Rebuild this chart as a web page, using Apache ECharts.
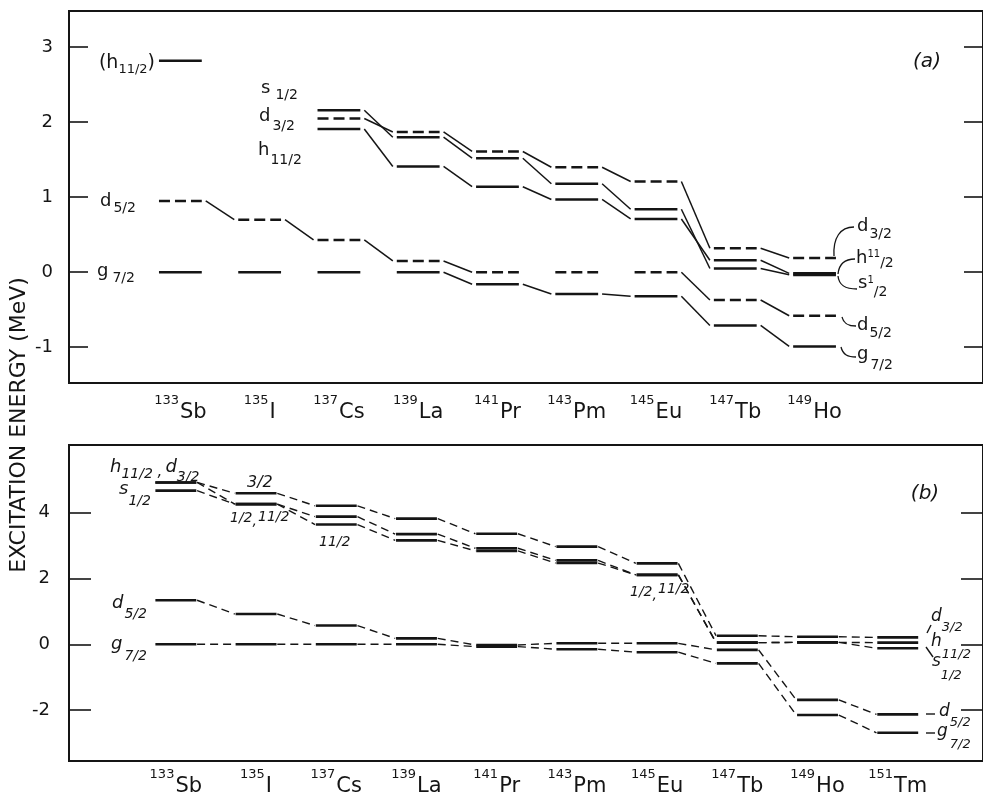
<!DOCTYPE html>
<html><head><meta charset="utf-8">
<script src="https://cdn.jsdelivr.net/npm/echarts@6/dist/echarts.min.js"></script>
<style>html,body{margin:0;padding:0;background:#fff}#c{width:983px;height:796px}</style>
</head><body><div id="c"></div>
<script>
// ---------------- data ----------------
const massA = ['133','135','137','139','141','143','145','147','149'];
const elemA = ['Sb','I','Cs','La','Pr','Pm','Eu','Tb','Ho'];
const massB = ['133','135','137','139','141','143','145','147','149','151'];
const elemB = ['Sb','I','Cs','La','Pr','Pm','Eu','Tb','Ho','Tm'];
const yTicksA = [-1, 0, 1, 2, 3];
const yTicksB = [-2, 0, 2, 4];

// panel (a): experimental levels (MeV), null = not shown
const aH11 = [2.82, null, 1.91, 1.41, 1.14, 0.97, 0.71, 0.16, -0.015];
const aS12 = [null, null, 2.16, 1.80, 1.52, 1.18, 0.84, 0.05, -0.035];
const aD32 = [null, null, 2.05, 1.87, 1.61, 1.40, 1.21, 0.32, 0.19];
const aD52 = [0.95, 0.70, 0.43, 0.15, 0.00, 0.00, 0.00, -0.37, -0.58];
const aG72 = [0.00, 0.00, 0.00, 0.00, -0.16, -0.29, -0.32, -0.71, -0.99];

// panel (b): calculated levels
const bD32 = [4.92, 4.59, 4.21, 3.82, 3.36, 2.97, 2.46, 0.26, 0.23, 0.21];
const bH11 = [4.92, 4.26, 3.64, 3.16, 2.84, 2.47, 2.11, 0.05, 0.06, 0.05];
const bS12 = [4.67, 4.26, 3.88, 3.35, 2.92, 2.55, 2.11, 0.05, 0.06, -0.12];
const bD52 = [1.34, 0.92, 0.57, 0.18, -0.02, 0.03, 0.03, -0.17, -1.69, -2.13];
const bG72 = [0.00, 0.00, 0.00, 0.00, -0.07, -0.15, -0.24, -0.58, -2.15, -2.69];

// ---------------- helpers ----------------
const INK = '#151515';
const FONT = "'DejaVu Sans', sans-serif";
const HW_A = 0.27, HW_B = 0.255, GAP_A = 0.05, GAP_B = 0.01;

function levelData(list) {
  const out = [];
  list.forEach(([vals, dashed]) => vals.forEach((v, i) => { if (v !== null) out.push([i, v, dashed ? 1 : 0]); }));
  return out;
}
function connData(list, skipFlat) {
  const out = [];
  list.forEach(vals => {
    for (let i = 0; i < vals.length - 1; i++) {
      const a = vals[i], b = vals[i + 1];
      if (a === null || b === null) continue;
      if (skipFlat && a === b) continue;
      out.push([i, a, i + 1, b]);
    }
  });
  return out;
}
function levelRenderer(hw, lw, dash) {
  return (params, api) => {
    const x = api.value(0), y = api.value(1), d = api.value(2);
    const p1 = api.coord([x - hw, y]), p2 = api.coord([x + hw, y]);
    return { type: 'line', shape: { x1: p1[0], y1: p1[1], x2: p2[0], y2: p2[1] },
      style: { stroke: INK, lineWidth: lw, lineDash: d ? dash : null, lineCap: 'butt' } };
  };
}
function connRenderer(hw, gap, lw, dash) {
  return (params, api) => {
    const p1 = api.coord([api.value(0) + hw + gap, api.value(1)]);
    const p2 = api.coord([api.value(2) - hw - gap, api.value(3)]);
    return { type: 'line', shape: { x1: p1[0], y1: p1[1], x2: p2[0], y2: p2[1] },
      style: { stroke: INK, lineWidth: lw, lineDash: dash, lineCap: 'butt' } };
  };
}

const levA = levelData([[aH11, false], [aS12, false], [aD32, true], [aD52, true], [aG72, false]]);
const conA = connData([aH11, aS12, aD32, aD52, aG72], true);
const levB = levelData([[bD32, false], [bH11, false], [bS12, false], [bD52, false], [bG72, false]]);
const conB = connData([bD32, bH11, bS12, bD52, bG72], false);

function yAxes(gi, min, max, ticks, margin, tlen) {
  const tick = { show: true, inside: true, length: tlen, lineStyle: { color: INK, width: 1.6 }, customValues: ticks };
  return [
    { gridIndex: gi, type: 'value', position: 'left', min, max,
      axisLine: { show: false, onZero: false }, splitLine: { show: false }, axisTick: tick,
      axisLabel: { show: true, customValues: ticks, margin, color: INK, fontSize: 18, fontFamily: FONT } },
    { gridIndex: gi, type: 'value', position: 'right', min, max,
      axisLine: { show: false, onZero: false }, splitLine: { show: false }, axisTick: tick,
      axisLabel: { show: false } }
  ];
}
function xAxis(gi, min, max) {
  return { gridIndex: gi, type: 'value', min, max, axisLine: { show: false, onZero: false }, axisTick: { show: false },
    axisLabel: { show: false }, splitLine: { show: false } };
}

const chart = echarts.init(document.getElementById('c'), null, { renderer: 'canvas' });
chart.setOption({
  animation: false,
  backgroundColor: '#fff',
  grid: [
    { left: 69, top: 11, right: -5, height: 372, show: true, borderColor: INK, borderWidth: 2, backgroundColor: 'transparent' },
    { left: 69, top: 445, right: -5, height: 316, show: true, borderColor: INK, borderWidth: 2, backgroundColor: 'transparent' }
  ],
  xAxis: [xAxis(0, -1.405, 10.125), xAxis(1, -1.332, 10.063)],
  yAxis: [...yAxes(0, -1.477, 3.483, yTicksA, 16, 19), ...yAxes(1, -3.547, 6.058, yTicksB, 19, 22)],
  series: [
    { type: 'custom', xAxisIndex: 0, yAxisIndex: 0, silent: true, data: conA, renderItem: connRenderer(HW_A, GAP_A, 1.5, null) },
    { type: 'custom', xAxisIndex: 0, yAxisIndex: 0, silent: true, data: levA, renderItem: levelRenderer(HW_A, 2.7, [11, 5]) },
    { type: 'custom', xAxisIndex: 1, yAxisIndex: 2, silent: true, data: conB, renderItem: connRenderer(HW_B, GAP_B, 1.4, [8, 5]) },
    { type: 'custom', xAxisIndex: 1, yAxisIndex: 2, silent: true, data: levB, renderItem: levelRenderer(HW_B, 2.6, null) }
  ]
});

// ---------------- annotations ----------------
const mctx = document.createElement('canvas').getContext('2d');
function tw(t, s, st) { mctx.font = `${st || 'normal'} ${s}px ${FONT}`; return mctx.measureText(t).width; }
function compound(spec) {
  const st = spec.style || 'normal';
  const widths = spec.parts.map(p => tw(p.t, p.s, st));
  const total = widths.reduce((a, b) => a + b, 0) + spec.parts.reduce((a, p) => a + (p.gap || 0), 0);
  let x = spec.x;
  if (spec.align === 'right') x -= total; else if (spec.align === 'center') x -= total / 2;
  const els = [];
  spec.parts.forEach((p, k) => {
    x += p.gap || 0;
    els.push({ type: 'text', x: x, y: p.bl - 0.35 * p.s, silent: true,
      style: { text: p.t, font: `${st} ${p.s}px ${FONT}`, fill: INK, align: 'left', textAlign: 'left',
        verticalAlign: 'middle', textVerticalAlign: 'middle' } });
    x += widths[k];
  });
  return els;
}

const g = [];
// y-axis title
g.push({ type: 'text', x: 19, y: 425, rotation: Math.PI / 2, silent: true,
  style: { text: 'EXCITATION ENERGY (MeV)', font: `normal 22px ${FONT}`, fill: INK,
    align: 'center', textAlign: 'center', verticalAlign: 'middle', textVerticalAlign: 'middle' } });

// x labels
massA.forEach((m, i) => {
  const px = chart.convertToPixel({ gridIndex: 0 }, [i, 0])[0];
  g.push(...compound({ x: px, align: 'center', parts: [{ t: m, s: 13, bl: 405 }, { t: elemA[i], s: 21, bl: 420, gap: 1 }] }));
});
massB.forEach((m, i) => {
  const px = chart.convertToPixel({ gridIndex: 1 }, [i, 0])[0];
  g.push(...compound({ x: px, align: 'center', parts: [{ t: m, s: 13, bl: 779 }, { t: elemB[i], s: 21, bl: 794, gap: 1 }] }));
});

// panel (a) labels
const labA = [
  { x: 155, align: 'right', parts: [{ t: '(h', s: 19, bl: 70 }, { t: '11/2', s: 13, bl: 74 }, { t: ')', s: 19, bl: 70 }] },
  { x: 100, parts: [{ t: 'd', s: 18, bl: 208 }, { t: '5/2', s: 14, bl: 213, gap: 2 }] },
  { x: 97, parts: [{ t: 'g', s: 18, bl: 278 }, { t: '7/2', s: 14, bl: 283, gap: 4 }] },
  { x: 261, parts: [{ t: 's', s: 18, bl: 95 }, { t: '1/2', s: 14, bl: 100, gap: 5 }] },
  { x: 259, parts: [{ t: 'd', s: 18, bl: 123 }, { t: '3/2', s: 14, bl: 131, gap: 2 }] },
  { x: 258, parts: [{ t: 'h', s: 18, bl: 157 }, { t: '11/2', s: 14, bl: 165, gap: 1 }] },
  { x: 857, parts: [{ t: 'd', s: 18, bl: 233 }, { t: '3/2', s: 14, bl: 239, gap: 1 }] },
  { x: 856, parts: [{ t: 'h', s: 18, bl: 265 }, { t: '11', s: 10, bl: 258 }, { t: '/2', s: 14, bl: 268 }] },
  { x: 858, parts: [{ t: 's', s: 18, bl: 290 }, { t: '1', s: 10, bl: 284 }, { t: '/2', s: 14, bl: 297 }] },
  { x: 857, parts: [{ t: 'd', s: 18, bl: 332 }, { t: '5/2', s: 14, bl: 338, gap: 1 }] },
  { x: 857, parts: [{ t: 'g', s: 18, bl: 361 }, { t: '7/2', s: 14, bl: 370, gap: 2 }] },
  { x: 927, align: 'center', style: 'italic', parts: [{ t: '(a)', s: 20, bl: 69 }] }
];
labA.forEach(l => g.push(...compound(l)));

// panel (b) labels
const labB = [
  { x: 110, style: 'italic', parts: [{ t: 'h', s: 18, bl: 474 }, { t: '11/2', s: 14, bl: 479 }, { t: ' ,', s: 15, bl: 477 }, { t: 'd', s: 18, bl: 474, gap: 3 }, { t: '3/2', s: 14, bl: 482 }] },
  { x: 119, style: 'italic', parts: [{ t: 's', s: 18, bl: 496 }, { t: '1/2', s: 14, bl: 506 }] },
  { x: 247, style: 'italic', parts: [{ t: '3/2', s: 16, bl: 488 }] },
  { x: 230, style: 'italic', parts: [{ t: '1/2', s: 14, bl: 523 }, { t: ',', s: 14, bl: 526 }, { t: '11/2', s: 14, bl: 522, gap: 1 }] },
  { x: 319, style: 'italic', parts: [{ t: '11/2', s: 14, bl: 547 }] },
  { x: 112, style: 'italic', parts: [{ t: 'd', s: 18, bl: 610 }, { t: '5/2', s: 14, bl: 619, gap: 1 }] },
  { x: 111, style: 'italic', parts: [{ t: 'g', s: 18, bl: 651 }, { t: '7/2', s: 14, bl: 661, gap: 2 }] },
  { x: 630, style: 'italic', parts: [{ t: '1/2', s: 14, bl: 597 }, { t: ',', s: 14, bl: 600 }, { t: '11/2', s: 14, bl: 594, gap: 1 }] },
  { x: 931, style: 'italic', parts: [{ t: 'd', s: 17, bl: 623 }, { t: '3/2', s: 13, bl: 632 }] },
  { x: 931, style: 'italic', parts: [{ t: 'h', s: 17, bl: 648 }, { t: '11/2', s: 13, bl: 659 }] },
  { x: 932, style: 'italic', parts: [{ t: 's', s: 17, bl: 668 }, { t: '1/2', s: 13, bl: 680 }] },
  { x: 939, style: 'italic', parts: [{ t: 'd', s: 17, bl: 718 }, { t: '5/2', s: 13, bl: 727 }] },
  { x: 937, style: 'italic', parts: [{ t: 'g', s: 17, bl: 738 }, { t: '7/2', s: 13, bl: 749, gap: 2 }] },
  { x: 925, align: 'center', style: 'italic', parts: [{ t: '(b)', s: 20, bl: 501 }] }
];
labB.forEach(l => g.push(...compound(l)));

// leader curves / lines
const leadStyle = { stroke: INK, lineWidth: 1.3, fill: null };
[
  [834, 256, 833, 238, 840, 227, 854, 227],
  [838, 274, 839, 264, 844, 259, 855, 259],
  [838, 276, 839, 286, 846, 289, 857, 289],
  [842, 317, 844, 325, 850, 326, 856, 326],
  [841, 347, 843, 355, 848, 357, 856, 357]
].forEach(c => g.push({ type: 'bezierCurve', silent: true,
  shape: { x1: c[0], y1: c[1], cpx1: c[2], cpy1: c[3], cpx2: c[4], cpy2: c[5], x2: c[6], y2: c[7] }, style: leadStyle }));
[
  [927, 633, 931, 625],
  [926, 647, 933, 657],
  [926, 714, 935, 714],
  [926, 733, 935, 733]
].forEach(c => g.push({ type: 'line', silent: true, shape: { x1: c[0], y1: c[1], x2: c[2], y2: c[3] }, style: { stroke: INK, lineWidth: 1.4 } }));

chart.setOption({ graphic: { elements: g } });
</script>
</body></html>
